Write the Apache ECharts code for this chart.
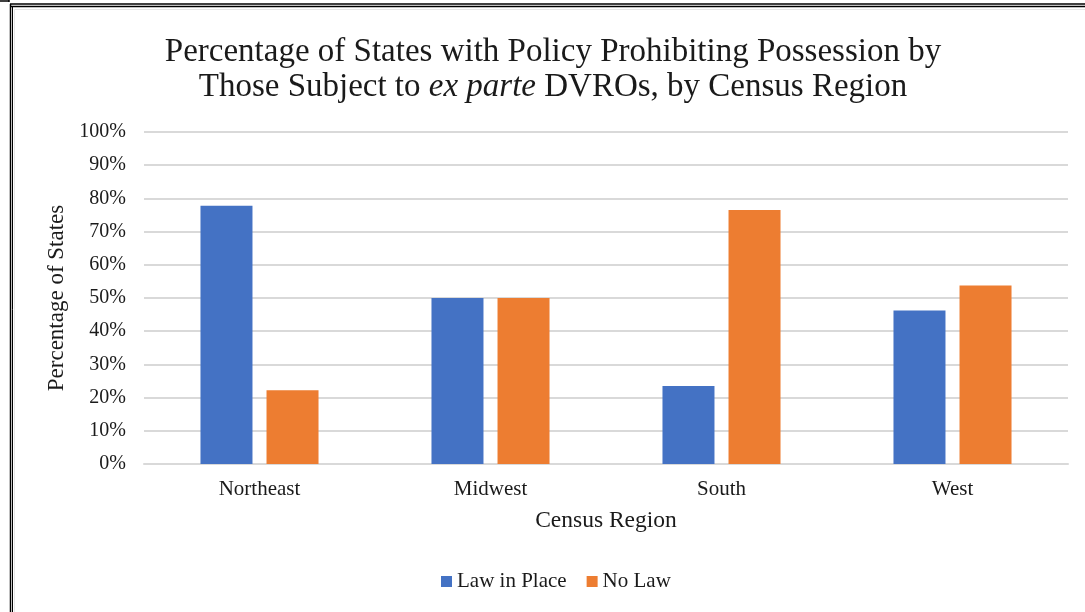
<!DOCTYPE html>
<html>
<head>
<meta charset="utf-8">
<style>
  html, body { margin: 0; padding: 0; background: #ffffff; }
  #chart { width: 1085px; height: 612px; }
</style>
<script src="https://cdn.jsdelivr.net/npm/echarts@6/dist/echarts.min.js"></script>
</head>
<body>
<div id="chart"></div>
<script>
// Census regions and share of states in each with / without the policy
const regions = ['Northeast', 'Midwest', 'South', 'West'];
const lawInPlace = [77.8, 50, 23.5, 46.2];
const noLaw = [22.2, 50, 76.5, 53.8];
const seriesNames = ['Law in Place', 'No Law'];
const yTicks = [0, 10, 20, 30, 40, 50, 60, 70, 80, 90, 100];

const serif = '"Liberation Serif", "DejaVu Serif", serif';
const ink = '#1a1a1a';
const chart = echarts.init(document.getElementById('chart'));

chart.setOption({
  backgroundColor: '#ffffff',
  animation: false,
  title: {
    text: '{n|Percentage of States with Policy Prohibiting Possession by}\n{n|Those Subject to }{i|ex parte}{n| DVROs, by Census Region}',
    left: 548,
    top: 30,
    textAlign: 'center',
    textStyle: {
      rich: {
        n: { fontFamily: serif, fontSize: 33, fontWeight: 'normal', color: ink, lineHeight: 35 },
        i: { fontFamily: serif, fontSize: 33, fontWeight: 'normal', fontStyle: 'italic', color: ink, lineHeight: 35 }
      }
    }
  },
  legend: {
    data: seriesNames,
    left: 436,
    top: 566,
    itemWidth: 11,
    itemHeight: 11,
    itemGap: 20,
    icon: 'rect',
    textStyle: { fontFamily: serif, fontSize: 21, color: ink }
  },
  grid: { left: 144, right: 17, top: 132, bottom: 148 },
  xAxis: {
    type: 'category',
    data: regions,
    name: 'Census Region',
    nameLocation: 'middle',
    nameGap: 45,
    nameTextStyle: { fontFamily: serif, fontSize: 23.5, color: ink },
    axisLine: { lineStyle: { color: '#d9d9d9', width: 2 } },
    axisTick: { show: false },
    axisLabel: { fontFamily: serif, fontSize: 21, color: ink, margin: 15 }
  },
  yAxis: {
    type: 'value',
    min: yTicks[0],
    max: yTicks[yTicks.length - 1],
    interval: 10,
    name: 'Percentage of States',
    nameLocation: 'middle',
    nameGap: 74,
    nameRotate: 90,
    nameTextStyle: { fontFamily: serif, fontSize: 23, color: ink },
    axisLine: { show: false },
    axisTick: { show: false },
    axisLabel: {
      fontFamily: serif, fontSize: 20, color: ink, margin: 18,
      formatter: v => v + '%'
    },
    splitLine: { lineStyle: { color: '#d9d9d9', width: 2 } }
  },
  series: [
    {
      name: seriesNames[0],
      type: 'bar',
      data: lawInPlace,
      barWidth: 52,
      barGap: '27%',
      itemStyle: { color: '#4472c4' }
    },
    {
      name: seriesNames[1],
      type: 'bar',
      data: noLaw,
      barWidth: 52,
      barGap: '27%',
      itemStyle: { color: '#ed7d31' }
    }
  ],
  graphic: [
    // page frame around the chart
    { type: 'line', shape: { x1: 0, y1: 1, x2: 9, y2: 1 }, style: { stroke: '#000', lineWidth: 1.5 } },
    { type: 'line', shape: { x1: 9, y1: 0, x2: 9, y2: 2 }, style: { stroke: '#000', lineWidth: 1.5 } },
    { type: 'line', shape: { x1: 10, y1: 4, x2: 1085, y2: 4 }, style: { stroke: '#000', lineWidth: 1.5 } },
    { type: 'line', shape: { x1: 10, y1: 6.5, x2: 1085, y2: 6.5 }, style: { stroke: '#000', lineWidth: 1.5 } },
    { type: 'line', shape: { x1: 10.5, y1: 4, x2: 10.5, y2: 612 }, style: { stroke: '#000', lineWidth: 1.5 } },
    { type: 'line', shape: { x1: 12.5, y1: 6.5, x2: 12.5, y2: 612 }, style: { stroke: '#000', lineWidth: 1 } },
    { type: 'line', shape: { x1: 14.5, y1: 9.5, x2: 1085, y2: 9.5 }, style: { stroke: '#e6e6e6', lineWidth: 1 } },
    { type: 'line', shape: { x1: 14.5, y1: 9.5, x2: 14.5, y2: 612 }, style: { stroke: '#e6e6e6', lineWidth: 1 } }
  ]
});
</script>
</body>
</html>
